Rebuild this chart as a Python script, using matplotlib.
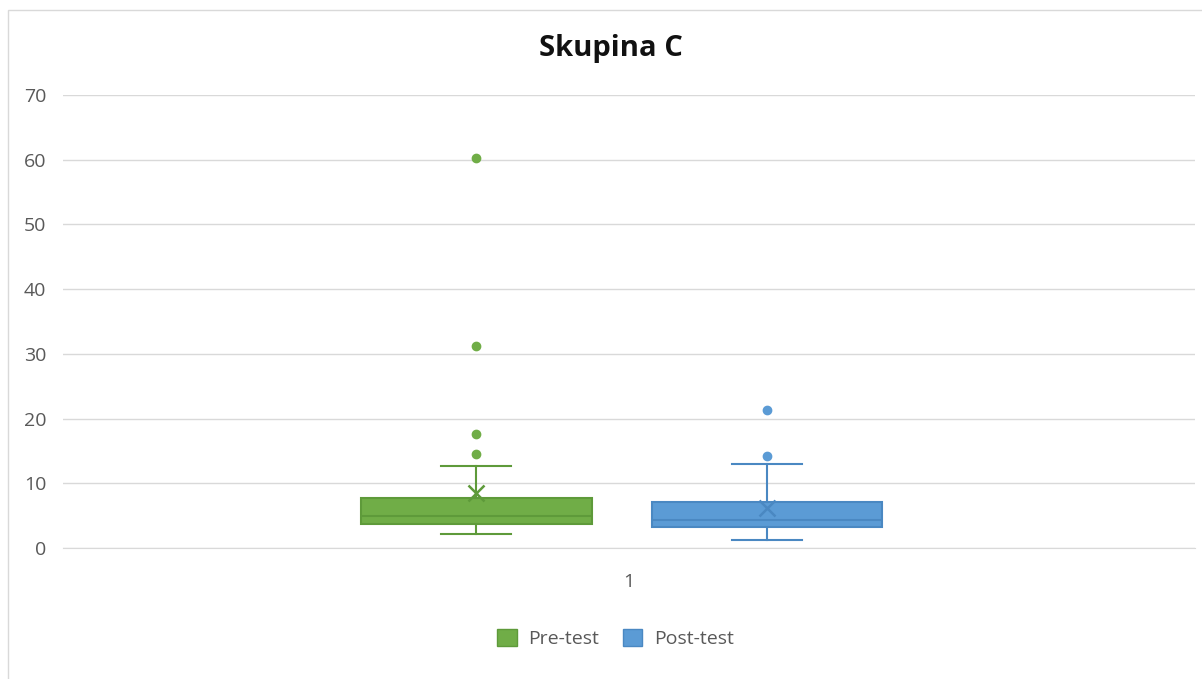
import matplotlib.pyplot as plt
from matplotlib.patches import Rectangle

# statistiky
series = ['Pre-test', 'Post-test']
q1 = [3.66, 3.3]
median = [4.9, 4.28]
q3 = [7.77, 7.16]
whislo = [2.16, 1.29]
whishi = [12.67, 13.0]
means = [8.45, 6.13]
outliers = [[14.5, 17.6, 31.2, 60.2], [14.2, 21.3]]
category = ['1']

fill_colors = ['#70AD47', '#5B9BD5']
edge_colors = ['#5E9A3A', '#4A88C2']

plt.rcParams['font.family'] = ['Open Sans', 'DejaVu Sans']

fig = plt.figure(figsize=(12.02, 6.79), dpi=100)
ax = fig.add_axes([0.0524, 0.193, 0.9416, 0.667])

positions = [0.365, 0.622]
for i in range(len(series)):
    stats = [{
        'med': median[i], 'q1': q1[i], 'q3': q3[i],
        'whislo': whislo[i], 'whishi': whishi[i],
        'mean': means[i], 'fliers': outliers[i], 'label': series[i],
    }]
    c = fill_colors[i]
    e = edge_colors[i]
    ax.bxp(stats, positions=[positions[i]], widths=0.204, patch_artist=True,
           showmeans=True, manage_ticks=False,
           boxprops=dict(facecolor=c, edgecolor=e, linewidth=1.5),
           medianprops=dict(color=e, linewidth=1.5),
           whiskerprops=dict(color=e, linewidth=1.5),
           capprops=dict(color=e, linewidth=1.5),
           capwidths=0.062,
           meanprops=dict(marker='x', markeredgecolor=e, markersize=11, markeredgewidth=1.8),
           flierprops=dict(marker='o', markerfacecolor=c, markeredgecolor=c, markersize=6))

ax.set_xlim(0, 1)
ax.set_ylim(0, 70)
ax.set_yticks(range(0, 71, 10))
ax.set_xticks([0.5])
ax.set_xticklabels(category)
ax.yaxis.grid(True, color='#D9D9D9', linewidth=1)
ax.set_axisbelow(True)
for s in ['top', 'right', 'left']:
    ax.spines[s].set_visible(False)
ax.spines['bottom'].set_color('#D9D9D9')
ax.tick_params(axis='both', length=0, labelsize=14, labelcolor='#595959', pad=12)
ax.tick_params(axis='x', pad=18)

fig.text(0.508, 0.928, 'Skupina C', ha='center', va='center', fontsize=21,
         fontweight='bold', color='#111111')

handles = [Rectangle((0, 0), 1, 1, facecolor=fill_colors[i], edgecolor=edge_colors[i])
           for i in range(len(series))]
fig.legend(handles, series, loc='center', bbox_to_anchor=(0.512, 0.06), ncol=2,
           frameon=False, fontsize=14, labelcolor='#595959',
           handlelength=1.0, handleheight=1.0, columnspacing=1.2, handletextpad=0.6)

fig.add_artist(Rectangle((0.007, -0.01), 1.1, 0.996, transform=fig.transFigure,
                         fill=False, edgecolor='#D9D9D9', linewidth=1))

fig.savefig('out.png', dpi=100)
